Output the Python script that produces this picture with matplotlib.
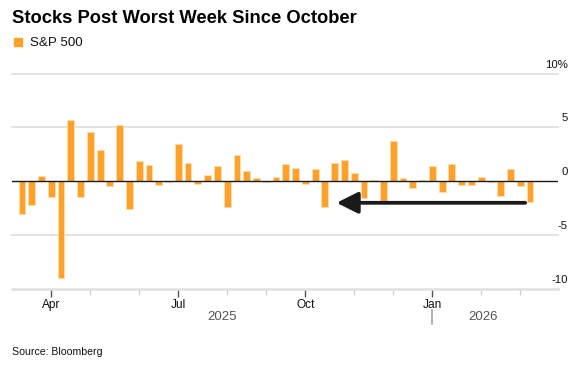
import matplotlib
matplotlib.use("Agg")
import matplotlib.pyplot as plt
import numpy as np
import pandas as pd
from matplotlib.transforms import blended_transform_factory, offset_copy

# ---- data ----
week_ending = pd.date_range("2025-03-07", "2026-03-06", freq="W-FRI")
weekly_change = [
    -3.0, -2.2, 0.5, -1.45, -9.0, 5.7, -1.45, 4.6, 2.9, -0.45,
    5.25, -2.55, 1.9, 1.5, -0.35, -0.1, 3.45, 1.7, -0.3, 0.6,
    1.45, -2.35, 2.45, 0.95, 0.3, -0.1, 0.35, 1.6, 1.25, -0.3,
    1.1, -2.35, 1.7, 1.95, 0.75, -1.6, 0.1, -2.0, 3.7, 0.3,
    -0.6, 0.15, 1.4, -1.0, 1.6, -0.35, -0.35, 0.35, -0.1, -1.4,
    1.1, -0.45, -1.95,
]
series_name = "S&P 500"
y_ticks = [-10, -5, 0, 5, 10]
y_labels = ["-10", "-5", "0", "5", "10%"]
month_starts = pd.date_range("2025-04-01", "2026-03-01", freq="MS")
major_months = [1, 4, 7, 10]
years = ["2025", "2026"]

FONT = "Liberation Sans"
ORANGE = "#FFA12B"
EDGE = "#FFDDAA"

fig = plt.figure(figsize=(5.8, 3.71), dpi=100)
W, H = 580, 371
ax = fig.add_axes([12 / W, (H - 289) / H, 546 / W, (289 - 73.5) / H])

x = np.arange(len(weekly_change))
ax.bar(x, weekly_change, width=0.70, color=ORANGE, edgecolor=EDGE,
       linewidth=0.7, zorder=3)

ax.set_xlim(-1.02, 54.86)
ax.set_ylim(-10, 10)

# gridlines
for v in y_ticks:
    if v == 0:
        ax.axhline(0, color="#1a1a1a", lw=1.0, zorder=4)
    elif v != -10:
        ax.axhline(v, color="#dedede", lw=1.2, zorder=1, clip_on=False)

for s in ["top", "right", "left"]:
    ax.spines[s].set_visible(False)
ax.spines["bottom"].set_color("#e0e0e0")
ax.spines["bottom"].set_linewidth(1.8)
ax.spines["bottom"].set_zorder(2)

ax.set_yticks([])

# y labels above gridlines on the right
trans = blended_transform_factory(ax.transAxes, ax.transData)
trans = offset_copy(trans, fig=fig, x=10, y=6, units="dots")
for v, lab in zip(y_ticks, y_labels):
    ax.text(1.0, v, lab, transform=trans, ha="right", va="baseline",
            fontsize=8.2, family=FONT, color="#111111")

# month ticks: nearest bar (dated to following Monday) to each month start
bar_dates = week_ending + pd.Timedelta(days=3)
tick_pos = []
tick_lab = []
major_pos = []
major_dates = []
for m in month_starts:
    idx = int(np.argmin(np.abs((bar_dates - m).days)))
    if m.month in major_months:
        major_pos.append(idx)
        major_dates.append(m)
        tick_lab.append(m.strftime("%b"))
    else:
        tick_pos.append(idx)
ax.set_xticks(major_pos)
ax.set_xticklabels(tick_lab, fontsize=8.6, family=FONT, color="#111111")
ax.set_xticks(tick_pos, minor=True)
ax.tick_params(axis="x", which="major", length=5.5, width=1.0,
               color="#555555", pad=2)
ax.tick_params(axis="x", which="minor", length=4, width=0.9,
               color="#cccccc")

# year labels and separator
jan_idx = [p for p, d in zip(major_pos, major_dates) if d.month == 1][0]
xt = blended_transform_factory(ax.transData, fig.transFigure)
ax.text((ax.get_xlim()[0] + jan_idx) / 2, 1 - 317 / H, years[0], transform=xt,
        ha="center", va="center", fontsize=9.5, family=FONT, color="#555555")
ax.text(jan_idx + 5.2, 1 - 317 / H, years[1], transform=xt,
        ha="center", va="center", fontsize=9.5, family=FONT, color="#555555")
ax.plot([jan_idx, jan_idx], [1 - 310 / H, 1 - 324 / H], transform=xt,
        color="#aaaaaa", lw=1.3, clip_on=False)

# arrow from latest week toward October
oct_idx = 31
last_idx = len(weekly_change) - 1
ax.annotate("", xy=(oct_idx + 1.2, -2.0), xytext=(last_idx - 0.5, -2.0),
            arrowprops=dict(arrowstyle="-|>,head_length=13,head_width=6.5",
                            mutation_scale=1, lw=2.7, color="#1a1a1a",
                            shrinkA=0, shrinkB=0), zorder=5)

# title, legend, source
fig.text(12 / W, 1 - 23 / H, "Stocks Post Worst Week Since October",
         fontsize=13.2, fontweight="bold", family=FONT, color="#000000",
         va="baseline")
fig.patches.append(plt.Rectangle((13.5 / W, 1 - 46 / H), 8 / W, 8.5 / H,
                                 transform=fig.transFigure, color=ORANGE))
fig.text(30 / W, 1 - 45.7 / H, series_name, fontsize=9.6, family=FONT,
         color="#111111", va="baseline")
fig.text(12 / W, 1 - 355 / H, "Source: Bloomberg", fontsize=7.6, family=FONT,
         color="#111111", va="baseline")

fig.savefig("out.png", dpi=100)
